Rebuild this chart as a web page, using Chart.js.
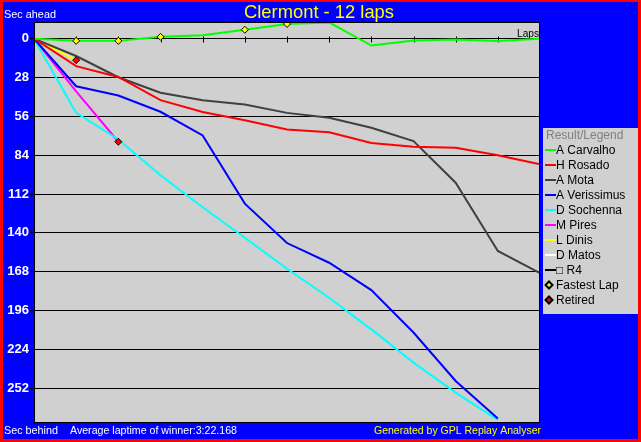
<!DOCTYPE html>
<html>
<head>
<meta charset="utf-8">
<script src="https://cdn.jsdelivr.net/npm/chart.js@4/dist/chart.umd.min.js"></script>
<style>
  body { margin: 0; background: #0000ff; }
  canvas { display: block; }
</style>
</head>
<body>
<canvas id="gap_chart" width="641" height="442"></canvas>
<script>
const FONT = '"Liberation Sans", Arial, sans-serif';

const laps = [0, 1, 2, 3, 4, 5, 6, 7, 8, 9, 10, 11, 12];
const lapTicks = [1, 2, 3, 4, 5, 6, 7, 8, 9, 10, 11];
const yTicks = [0, 28, 56, 84, 112, 140, 168, 196, 224, 252];

const drivers = ["A Carvalho", "H Rosado", "A Mota", "A Verissimus", "D Sochenna", "M Pires", "L Dinis", "D Matos", "\u25A1 R4"];
const driverColors = ["#00ff00", "#ff0000", "#404040", "#0000ff", "#00ffff", "#ff00ff", "#ffff00", "#ffffff", "#000000"];

// seconds behind the average-pace reference, lap by lap
const carvalho = [0, 1.6, 1.6, -1.3, -2.5, -6.4, -10.6, -11.7, 5.0, 1.4, 0.7, 1.7, 0];
const rosado = [0, 19.8, 27.6, 44.3, 52.8, 58.8, 65.5, 67.4, 75.2, 77.9, 78.6, 84.1, 90.6];
const mota = [0, 12.5, 27.8, 39.0, 44.4, 47.5, 53.5, 57.0, 64.2, 73.8, 103.8, 153.0, 169.0];
const verissimus = [0, 34.3, 41.0, 52.7, 69.8, 118.9, 147.3, 161.5, 181.2, 211.8, 246.7, 273.7];
const sochenna = [0, 53.5, 72.7, 98.4, 121.5, 143.5, 165.8, 186.7, 209.5, 233.5, 255.1, 274.7];
const pires = [0, 38.0, 74.3];
const dinis = [0, 15.5];
const matos = [];
const r4 = [];

const fastestLaps = [1, 2, 3, 5, 6];
const retiredDrivers = ["M Pires", "L Dinis"];

const series = [carvalho, rosado, mota, verissimus, sochenna, pires, dinis, matos, r4];

const lineSets = drivers.map((name, i) => ({
  label: name,
  data: series[i].map((v, k) => ({ x: laps[k], y: v })),
  borderColor: driverColors[i],
  backgroundColor: driverColors[i],
  borderWidth: 2,
  pointRadius: 0,
  tension: 0
}));

const fastestSet = {
  label: "Fastest Lap",
  type: "scatter",
  order: -1,
  data: fastestLaps.map(l => ({ x: l, y: carvalho[laps.indexOf(l)] })),
  pointStyle: "rectRot",
  pointRadius: 3.5,
  backgroundColor: "#ffff00",
  borderColor: "#000000",
  borderWidth: 1
};

const retiredSet = {
  label: "Retired",
  type: "scatter",
  order: -1,
  data: retiredDrivers.map(name => {
    const s = series[drivers.indexOf(name)];
    return { x: laps[s.length - 1], y: s[s.length - 1] };
  }),
  pointStyle: "rectRot",
  pointRadius: 3.5,
  backgroundColor: "#ff0000",
  borderColor: "#000000",
  borderWidth: 1
};

const decor = {
  id: "decor",
  beforeDraw(chart) {
    const { ctx, width, height, chartArea: a } = chart;
    ctx.save();
    ctx.fillStyle = "#ff0000";
    ctx.fillRect(0, 0, width, height);
    ctx.fillStyle = "#0000ff";
    ctx.fillRect(3, 2, width - 6, height - 5);
    ctx.fillStyle = "#d0d0d0";
    ctx.fillRect(a.left, a.top, a.right - a.left, a.bottom - a.top);
    ctx.restore();
  },
  beforeDatasetsDraw(chart) {
    const { ctx, scales: { x, y } } = chart;
    const y0 = Math.round(y.getPixelForValue(0)) + 0.5;
    ctx.save();
    ctx.strokeStyle = "#000";
    ctx.lineWidth = 1;
    ctx.beginPath();
    lapTicks.forEach(l => {
      const px = Math.round(x.getPixelForValue(l)) + 0.5;
      ctx.moveTo(px, y0 - 3);
      ctx.lineTo(px, y0 + 3);
    });
    ctx.stroke();
    ctx.fillStyle = "#000";
    ctx.font = "11px " + FONT;
    ctx.textAlign = "right";
    ctx.textBaseline = "alphabetic";
    ctx.fillText("Laps", chart.chartArea.right - 1, y0 - 3, 22);
    ctx.restore();
  },
  afterDraw(chart) {
    const { ctx, height, chartArea: a } = chart;
    ctx.save();
    ctx.strokeStyle = "#000";
    ctx.lineWidth = 1;
    ctx.strokeRect(a.left + 0.5, a.top + 0.5, a.right - a.left - 1, a.bottom - a.top - 1);

    // title and captions
    ctx.textBaseline = "middle";
    ctx.fillStyle = "#ffff00";
    ctx.font = "19px " + FONT;
    ctx.textAlign = "center";
    ctx.fillText("Clermont - 12 laps", 319, 13, 150);
    ctx.font = "11px " + FONT;
    ctx.textAlign = "left";
    ctx.fillStyle = "#ffffff";
    ctx.fillText("Sec ahead", 4, 15, 52);
    ctx.fillText("Sec behind", 4, 431, 54);
    ctx.fillText("Average laptime of winner:3:22.168", 70, 431, 167);
    ctx.fillStyle = "#ffff00";
    ctx.textAlign = "right";
    ctx.fillText("Generated by GPL Replay Analyser", a.right + 1, 431, 167);

    // legend box
    const items = chart.data.datasets;
    const rowH = 15;
    const lw = 95;
    const lh = 33 + rowH * (items.length - 1) + 3;
    const lx = a.right + 3;
    const ly = Math.round((height - lh) / 2);
    ctx.fillStyle = "#d0d0d0";
    ctx.fillRect(lx, ly, lw, lh);
    ctx.font = "12px " + FONT;
    ctx.textAlign = "left";
    ctx.fillStyle = "#808080";
    ctx.fillText("Result/Legend", lx + 3, ly + 8);
    items.forEach((ds, i) => {
      const cy = ly + 22 + rowH * i;
      if (ds.type === "scatter") {
        ctx.fillStyle = ds.backgroundColor;
        ctx.strokeStyle = ds.borderColor;
        Chart.helpers.drawPoint(ctx, { pointStyle: "rectRot", radius: 3.5, borderWidth: 1, rotation: 0 }, lx + 6, cy);
      } else {
        ctx.strokeStyle = ds.borderColor;
        ctx.lineWidth = 2;
        ctx.beginPath();
        ctx.moveTo(lx + 2, cy);
        ctx.lineTo(lx + 13, cy);
        ctx.stroke();
      }
      ctx.fillStyle = "#000";
      ctx.fillText(ds.label, lx + 13, cy + 0.5);
    });
    ctx.restore();
  }
};

new Chart(document.getElementById("gap_chart").getContext("2d"), {
  type: "line",
  data: { datasets: [...lineSets, fastestSet, retiredSet] },
  options: {
    responsive: false,
    animation: false,
    devicePixelRatio: 1,
    layout: { padding: { top: 22, right: 101, bottom: 19, left: 0 } },
    plugins: { legend: { display: false }, tooltip: { enabled: false } },
    scales: {
      x: { type: "linear", min: 0, max: 12, display: false },
      y: {
        reverse: true,
        min: -12,
        max: 277,
        afterBuildTicks: scale => { scale.ticks = yTicks.map(v => ({ value: v })); },
        afterFit: scale => { scale.width = 34; },
        grid: { color: "#000000", lineWidth: 1, tickLength: 4, drawTicks: true },
        border: { color: "#000000" },
        ticks: { color: "#ffffff", padding: 1, autoSkip: false, font: { family: FONT, size: 13, weight: "bold" } }
      }
    }
  },
  plugins: [decor]
});
</script>
</body>
</html>
